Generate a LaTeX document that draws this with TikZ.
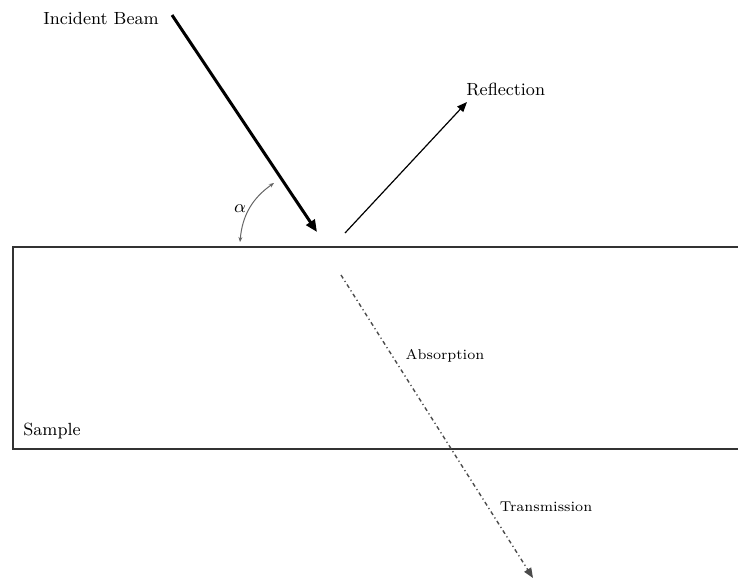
\documentclass[tikz,border=0pt]{standalone}
\usepackage{tikz}
\usetikzlibrary{arrows.meta, positioning}

\begin{document}
\begin{tikzpicture}[
  x=0.5pt, y=-0.5pt,
  label/.style={font=\fontsize{8.8}{10}\selectfont, inner sep=0pt},
  smalllabel/.style={font=\fontsize{7.1}{9}\selectfont, inner sep=0pt},
  incident/.style={-{Triangle[length=6pt,width=5pt]}, line width=1.5pt},
  reflect/.style={-{Triangle[length=5pt,width=4pt]}, line width=0.6pt},
  transmit/.style={-{Triangle[length=5pt,width=4pt]}, line width=0.7pt, gray!60!black,
                   dash pattern=on 2pt off 1.5pt on 0.6pt off 1.5pt},
  angle/.style={{Stealth[length=2.5pt,width=2pt]}-{Stealth[length=2.5pt,width=2pt]},
                line width=0.5pt, gray!80!black}
]
  \useasboundingbox (0,0) rectangle (738,579);

  %--- Sample ---
  \draw[line width=0.8pt, black!80] (738,247) -- (13,247) -- (13,449) -- (738,449);
  \node[label] (sample) at (52,431) {Sample};

  %--- Beam end points ---
  \coordinate (src)  at (172,15);
  \coordinate (hit)  at (317,232);
  \coordinate (rfrom) at (345,233);
  \coordinate (rto)  at (467,102);
  \coordinate (tfrom) at (341,275);
  \coordinate (tto)  at (533,578);
  \coordinate (a1)   at (240,242);
  \coordinate (a2)   at (274,183);

  %--- Beams ---
  \node[label] (inc) at (101,18) {Incident Beam};
  \draw[incident] (src) -- (hit);

  \node[label, anchor=west] (refl) at (466,89) {Reflection};
  \draw[reflect] (rfrom) -- (rto);

  \node[smalllabel] (abs) at (445,356) {Absorption};
  \node[smalllabel] (trans) at (546,507) {Transmission};
  \draw[transmit] (tfrom) -- (tto);

  %--- Angle ---
  \draw[angle] (a1) to[bend left=25] (a2);
  \node[label] (alpha) at (240,209) {$\alpha$};

\end{tikzpicture}
\end{document}
